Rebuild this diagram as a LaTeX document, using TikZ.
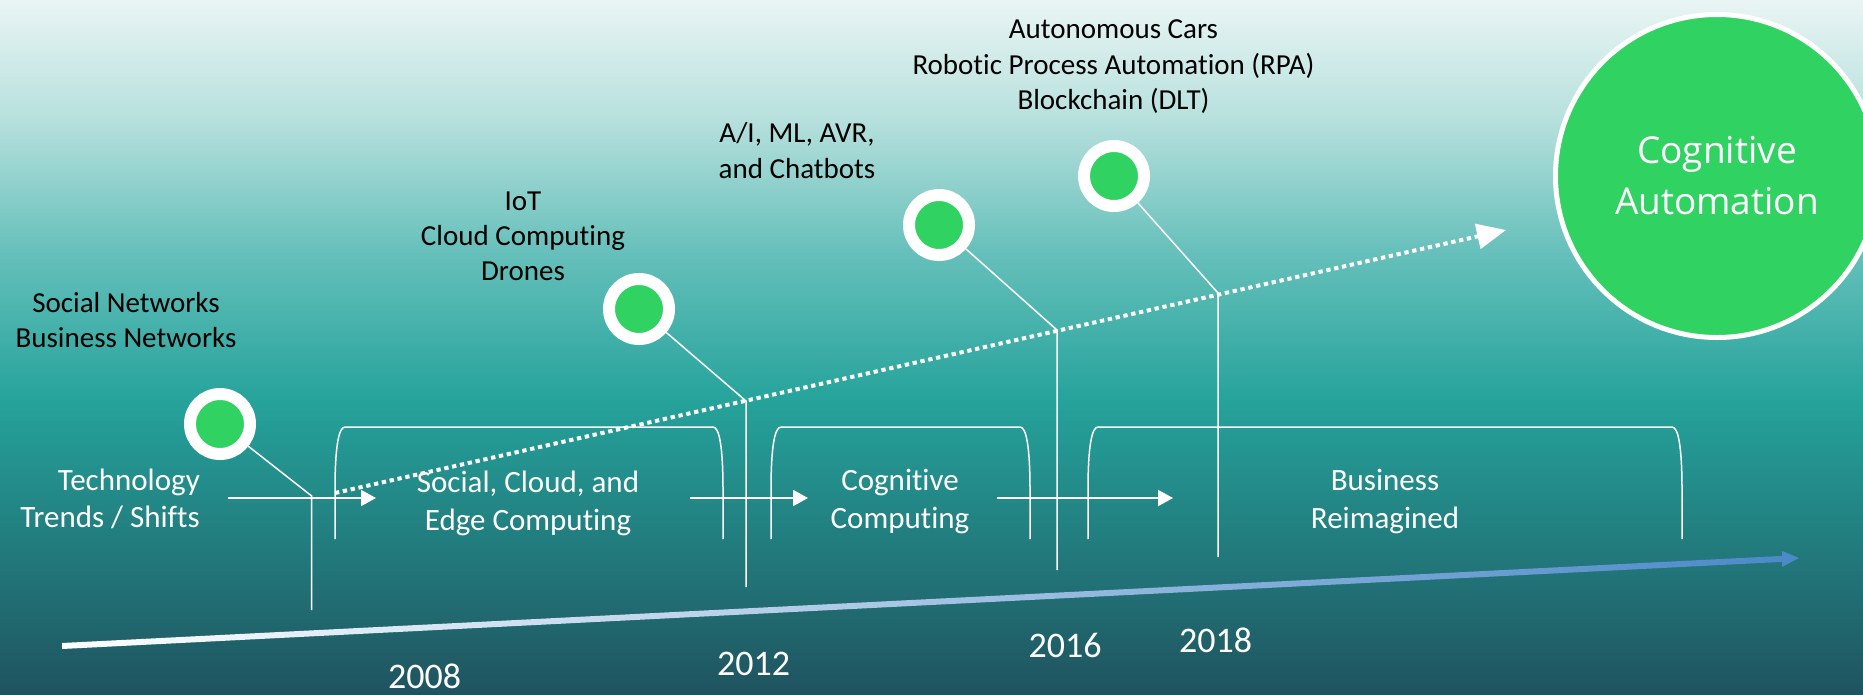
\documentclass[tikz,border=0pt]{standalone}
\usepackage{fontspec}
\setmainfont{Carlito}[Ligatures={NoCommon}]
\newfontfamily\osfont{Open Sans}
\usetikzlibrary{arrows.meta,calc}
\definecolor{bgA}{HTML}{E9F5F4}
\definecolor{bgB}{HTML}{B6E0DD}
\definecolor{bgC}{HTML}{67C0BB}
\definecolor{bgD}{HTML}{25A39B}
\definecolor{bgE}{HTML}{1F535F}
\definecolor{mgreen}{HTML}{30D262}
\definecolor{tlmid}{HTML}{AFC3E8}
\definecolor{tlblue}{HTML}{4A88C8}
\tikzset{
  marker/.style={circle, fill=mgreen, draw=white, line width=12pt, minimum size=60pt, inner sep=0pt},
  link/.style={draw=white, line width=1.5pt},
  bracket/.style={draw=white, line width=1.5pt},
  harrow/.style={draw=white, line width=2pt, -{Triangle[length=15pt,width=16pt]}},
  trend/.style={draw=white, line width=4pt, dash pattern=on 4.3pt off 3.7pt, -{Triangle[length=29pt,width=25pt]}},
  blab/.style={font=\fontsize{29}{35.3}\selectfont, text=black, align=center, inner sep=0pt, anchor=base},
  wlab/.style={font=\fontsize{31}{37.7}\selectfont, text=white, align=center, inner sep=0pt, anchor=base},
  year/.style={font=\fontsize{36}{43}\selectfont, text=white, inner sep=0pt, anchor=base},
  bigcirc/.style={circle, fill=mgreen, draw=white, line width=5pt, minimum size=323pt, inner sep=0pt,
    font=\osfont\fontsize{37}{51}\selectfont, text=white, align=center}
}
\newcommand\tlbracket[2]{%
  \draw[bracket] (#1,539) -- (#1,490) .. controls (#1,445) and (#1+4,427) .. (#1+10,427)
    -- (#2-10,427) .. controls (#2-4,427) and (#2,445) .. (#2,490) -- (#2,539);}
\begin{document}
\begin{tikzpicture}[x=1pt,y=-1pt]
\useasboundingbox (0,0) rectangle (1863,694);
\clip (0,0) rectangle (1863,694);
% background
\shade[top color=bgA, bottom color=bgB] (0,0) rectangle (1863,121);
\shade[top color=bgB, bottom color=bgC] (0,120) rectangle (1863,251);
\shade[top color=bgC, bottom color=bgD] (0,250) rectangle (1863,401);
\shade[top color=bgD, bottom color=bgE] (0,400) rectangle (1863,694);

% brackets
\tlbracket{335}{723}
\tlbracket{771}{1030}
\tlbracket{1088}{1682}

% timeline arrow
\coordinate (t0) at (62,646);
\coordinate (t1) at (1799,558);
\shade[left color=white, middle color=tlmid, right color=tlblue]
  ($(t0)+(0,-3)$) -- ($(t1)+(-17,-2.1)$) -- ($(t1)+(-17,-7.1)$) -- (t1)
  -- ($(t1)+(-17,8.9)$) -- ($(t1)+(-17,3.9)$) -- ($(t0)+(0,3)$) -- cycle;

% horizontal arrows
\coordinate (a1s) at (228,498); \coordinate (a1e) at (376,498);
\coordinate (a2s) at (690,498); \coordinate (a2e) at (808,498);
\coordinate (a3s) at (997,498); \coordinate (a3e) at (1173,498);
\draw[harrow] (a1s) -- (a1e);
\draw[harrow] (a2s) -- (a2e);
\draw[harrow] (a3s) -- (a3e);

% trend (dotted) arrow
\coordinate (d0) at (335,493);
\coordinate (d1) at (1506,230);
\draw[trend] (d0) -- (d1);

% markers and their stems
\node[marker] (m1) at (220,424) {};
\node[marker] (m2) at (639,309) {};
\node[marker] (m3) at (939,225) {};
\node[marker] (m4) at (1114,176) {};
\coordinate (j1) at (311.7,496);  \coordinate (e1) at (311.7,610);
\coordinate (j2) at (746,401);    \coordinate (e2) at (746,587);
\coordinate (j3) at (1057,330);   \coordinate (e3) at (1057,570);
\coordinate (j4) at (1218,293);   \coordinate (e4) at (1218,557);
\draw[link] (m1) -- (j1) -- (e1);
\draw[link] (m2) -- (j2) -- (e2);
\draw[link] (m3) -- (j3) -- (e3);
\draw[link] (m4) -- (j4) -- (e4);

% big circle
\node[bigcirc] (ca) at (1717,176) {Cognitive\\Automation};

% black labels (anchor = baseline of the last line)
\node[blab] (sn) at (126,347.3) {Social Networks\\Business Networks};
\node[blab] (iot) at (523,280.7) {IoT\\Cloud Computing\\Drones};
\node[blab] (ai) at (797,178) {A/I, ML, AVR,\\and Chatbots};
\node[blab] (auto) at (1113.5,109.3) {Autonomous Cars\\Robotic Process Automation (RPA)\\Blockchain (DLT)};

% white labels (anchor = baseline of the last line)
\node[wlab, align=right, anchor=base east] (tech) at (200,527.7) {Technology\\Trends / Shifts};
\node[wlab] (scec) at (528,530) {Social, Cloud, and\\Edge Computing};
\node[wlab] (cogc) at (900,528) {Cognitive\\Computing};
\node[wlab] (bizr) at (1385,528) {Business\\Reimagined};

% years
\node[year] (y2008) at (424.5,688) {2008};
\node[year] (y2012) at (753.5,675) {2012};
\node[year] (y2016) at (1065,657) {2016};
\node[year] (y2018) at (1215.5,652) {2018};
\end{tikzpicture}
\end{document}
